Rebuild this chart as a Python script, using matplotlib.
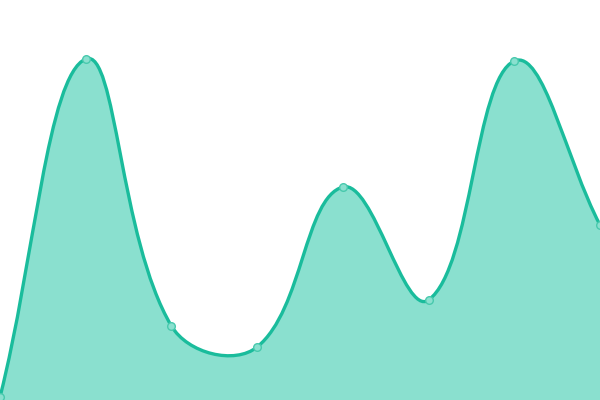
import matplotlib
matplotlib.use("Agg")
import matplotlib.pyplot as plt
import numpy as np
from matplotlib.path import Path
from matplotlib.patches import PathPatch

labels = ["1", "2", "3", "4", "5", "6", "7", "8"]
values = [3, 341, 74, 53, 213, 100, 339, 175]

line_color = "#1abc9c"
fill_color = "#8ae0cf"
point_edge = "#48c9ad"
tension = 0.4

fig = plt.figure(figsize=(6, 4), dpi=100)
ax = fig.add_axes([0, 0, 1, 1])
ax.set_xlim(0, len(labels) - 1)
ax.set_ylim(0, 400)
ax.axis("off")

x = np.arange(len(labels))
pts = ax.transData.transform(np.column_stack([x, values]))

# tension-based bezier control points (computed in pixel space)
n = len(pts)
cp_prev = np.zeros_like(pts)
cp_next = np.zeros_like(pts)
for i in range(n):
    cur = pts[i]
    prev = pts[i - 1] if i > 0 else cur
    nxt = pts[i + 1] if i < n - 1 else cur
    d01 = np.hypot(*(cur - prev))
    d12 = np.hypot(*(nxt - cur))
    tot = d01 + d12
    s01 = d01 / tot if tot else 0
    s12 = d12 / tot if tot else 0
    cp_prev[i] = cur - tension * s01 * (nxt - prev)
    cp_next[i] = cur + tension * s12 * (nxt - prev)

verts = [pts[0]]
codes = [Path.MOVETO]
for i in range(n - 1):
    verts += [cp_next[i], cp_prev[i + 1], pts[i + 1]]
    codes += [Path.CURVE4] * 3

inv = ax.transData.inverted()
curve = inv.transform(np.array(verts))

base = [[x[-1], 0], [x[0], 0], [x[0], values[0]]]
fill_verts = np.vstack([curve, base])
fill_codes = codes + [Path.LINETO, Path.LINETO, Path.CLOSEPOLY]
ax.add_patch(PathPatch(Path(fill_verts, fill_codes), facecolor=fill_color,
                       edgecolor="none", zorder=1))
ax.add_patch(PathPatch(Path(curve, codes), facecolor="none",
                       edgecolor=line_color, linewidth=2.4, zorder=2))

ax.plot(x, values, "o", markersize=5.5, markerfacecolor=fill_color,
        markeredgecolor=point_edge, markeredgewidth=1, zorder=3, clip_on=False)

plt.savefig("out.png", dpi=100)
